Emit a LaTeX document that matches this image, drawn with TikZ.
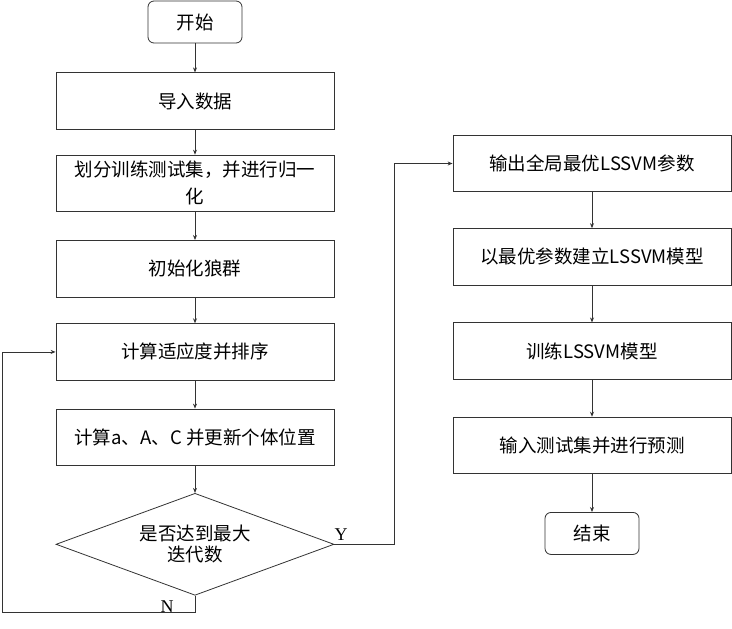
\documentclass[tikz,border=0pt]{standalone}
\usepackage{fontspec}
\setmainfont{Noto Sans CJK SC}
\newfontfamily\yesnofont{Liberation Serif}
\usetikzlibrary{positioning,shapes.geometric,arrows.meta}
\tikzset{
    flowline/.style={draw=black!80, line width=0.8pt},
    arrowline/.style={flowline, -{Stealth[length=5pt,width=4pt]}},
    stepbox/.style={rectangle, draw=black!80, line width=0.8pt, minimum width=278pt, minimum height=56.5pt, align=center, inner sep=2pt},
    termbox/.style={rectangle, rounded corners=6pt, draw=black!80, line width=0.8pt, minimum width=94pt, minimum height=42pt},
    judgebox/.style={diamond, aspect=2.73, draw=black!80, line width=0.8pt, minimum width=278pt, minimum height=102pt, inner sep=0pt, align=center},
    yesno/.style={font=\yesnofont\fontsize{18}{20}\selectfont, inner sep=0pt}
}
\begin{document}
\begin{tikzpicture}[font=\fontsize{18.5}{22}\selectfont]
    \useasboundingbox (0pt,0pt) rectangle (732pt,-629pt);
    % left column
    \node [termbox] (start) at (195pt,-22pt) {开始};
    \node [stepbox, below=29pt of start] (load) {导入数据};
    \node [stepbox, below=25pt of load, font=\fontsize{18.5}{27}\selectfont] (split) {划分训练测试集，并进行归一\\化};
    \node [stepbox, below=28pt of split] (init) {初始化狼群};
    \node [stepbox, below=26pt of init] (fit) {计算适应度并排序};
    \node [stepbox, below=28pt of fit] (update) {计算a、A、C 并更新个体位置};
    \node [judgebox, below=27pt of update, font=\fontsize{18.5}{21}\selectfont] (judge) {是否达到最大\\迭代数};
    % right column
    \node [stepbox] (out) at (592pt,-163.5pt) {输出全局最优LSSVM参数};
    \node [stepbox, below=36pt of out] (build) {以最优参数建立LSSVM模型};
    \node [stepbox, below=37pt of build] (train) {训练LSSVM模型};
    \node [stepbox, below=37pt of train] (predict) {输入测试集并进行预测};
    \node [termbox, below=38pt of predict] (finish) {结束};

    \draw [arrowline] (start) -- (load);
    \draw [arrowline] (load) -- (split);
    \draw [arrowline] (split) -- (init);
    \draw [arrowline] (init) -- (fit);
    \draw [arrowline] (fit) -- (update);
    \draw [arrowline] (update) -- (judge);
    \draw [arrowline] (out) -- (build);
    \draw [arrowline] (build) -- (train);
    \draw [arrowline] (train) -- (predict);
    \draw [arrowline] (predict) -- (finish);

    % Y branch
    \draw [arrowline] (judge.east) -- ++(60pt,0) |- (out.west);
    \node [yesno, above right=4pt and 0pt of judge.east] (yes) {Y};
    % N branch
    \draw [arrowline] (judge.south) -- ++(0,-17pt) -| ([xshift=-53.5pt]fit.west) -- (fit.west);
    \node [yesno] (no) at (167pt,-607pt) {N};
\end{tikzpicture}
\end{document}
